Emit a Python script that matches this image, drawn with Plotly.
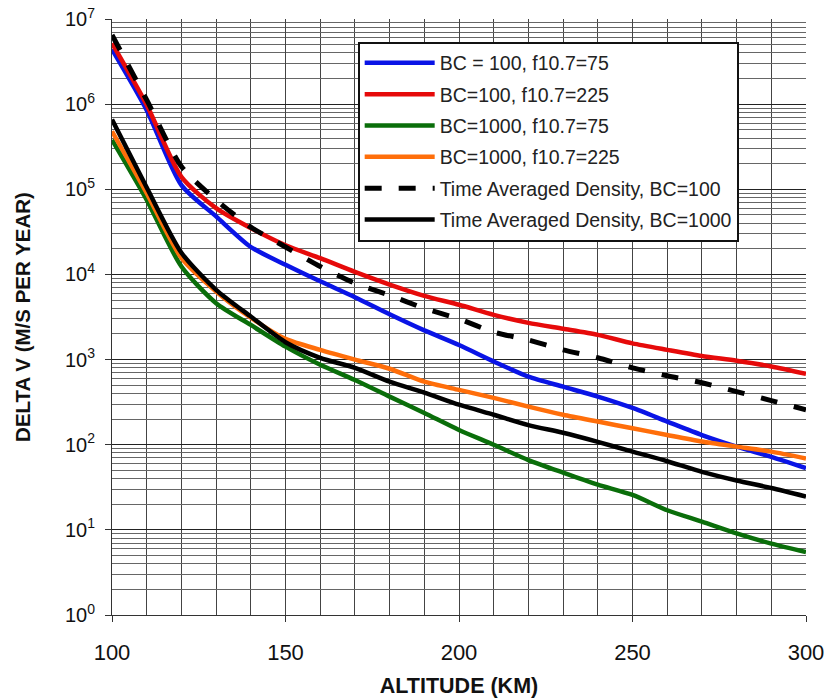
import plotly.graph_objects as go

# Altitude grid (km)
altitude = [100, 110, 120, 130, 140, 150, 160, 170, 180, 190, 200,
            210, 220, 230, 240, 250, 260, 270, 280, 290, 300]

# Delta-V needed to hold altitude (m/s per year)
bc100_f75 = [4.4e6, 8.5e5, 1.12e5, 4.8e4, 2.1e4, 1.3e4, 8.3e3, 5.4e3, 3.4e3, 2.2e3, 1.48e3,
             950, 630, 480, 367, 270, 187, 130, 95, 72, 53]
bc100_f225 = [5.2e6, 9.8e5, 1.4e5, 6.0e4, 3.5e4, 2.2e4, 1.55e4, 1.07e4, 7.6e3, 5.6e3, 4.4e3,
              3.35e3, 2.7e3, 2.3e3, 1.95e3, 1.55e3, 1.3e3, 1.1e3, 970, 830, 680]
bc1000_f75 = [3.8e5, 7.5e4, 1.24e4, 4.6e3, 2.55e3, 1.42e3, 870, 575, 367, 236, 149,
              100, 66, 47, 34, 25.7, 17, 12.5, 9.1, 6.9, 5.5]
bc1000_f225 = [4.8e5, 9.0e4, 1.56e4, 6.3e3, 3.1e3, 1.75e3, 1.3e3, 1.0e3, 780, 550, 440,
               355, 280, 225, 187, 156, 130, 109, 95, 83, 69]
avg_bc100 = [6.5e6, 1.12e6, 1.85e5, 7.5e4, 3.6e4, 2.1e4, 1.24e4, 7.9e3, 5.7e3, 4.0e3, 3.0e3,
             2.1e3, 1.7e3, 1.3e3, 1.05e3, 800, 645, 535, 420, 330, 257]
avg_bc1000 = [6.6e5, 1.05e5, 1.8e4, 6.6e3, 3.2e3, 1.6e3, 1.05e3, 800, 550, 410, 295,
              225, 170, 138, 108, 83, 64, 48, 38, 31, 24.6]

# Axis ticks
x_ticks = [100, 150, 200, 250, 300]
y_ticks = [1, 10, 100, 1e3, 1e4, 1e5, 1e6, 1e7]
y_tick_text = [f"10<sup>{n}</sup>" for n in range(8)]

series = [
    ("BC = 100, f10.7=75", bc100_f75, "#0a14e6", "solid"),
    ("BC=100, f10.7=225", bc100_f225, "#e60a0a", "solid"),
    ("BC=1000, f10.7=75", bc1000_f75, "#0a6e0a", "solid"),
    ("BC=1000, f10.7=225", bc1000_f225, "#ff6e0a", "solid"),
    ("Time Averaged Density, BC=100", avg_bc100, "#000000", "17px,17px"),
    ("Time Averaged Density, BC=1000", avg_bc1000, "#000000", "solid"),
]

fig = go.Figure()
for i, (name, vals, color, dash) in enumerate(series):
    fig.add_trace(go.Scatter(
        x=altitude, y=vals, name=name, mode="lines",
        line=dict(color=color, width=5 if dash != "solid" else 4.5,
                  dash=dash, shape="spline", smoothing=0.7),
        legendgroup=f"g{i}",
    ))

font_family = "Liberation Sans, Arial, sans-serif"

fig.update_layout(
    width=828, height=698,
    margin=dict(l=112, r=22, t=19, b=83),
    paper_bgcolor="white", plot_bgcolor="white",
    font=dict(family=font_family, color="#111", size=16),
    showlegend=True,
    legend=dict(
        x=0.354, y=0.962, xanchor="left", yanchor="top",
        bgcolor="white", bordercolor="#111", borderwidth=2,
        font=dict(size=19.5, color="#222"),
        itemwidth=70, tracegroupgap=3, traceorder="grouped",
    ),
    xaxis=dict(
        range=[100, 300], automargin=False,
        tickvals=x_ticks,
        ticks="outside", ticklen=6, tickcolor="#333", ticklabelstandoff=12,
        showgrid=True, gridcolor="#444", gridwidth=1,
        minor=dict(dtick=10, showgrid=True, gridcolor="#444", gridwidth=1),
        showline=True, linecolor="#333", linewidth=1,
        tickfont=dict(size=22),
        title=dict(text="<b>ALTITUDE (KM)</b>", font=dict(size=21.5), standoff=16),
        zeroline=False,
    ),
    yaxis=dict(
        type="log", range=[0, 7], automargin=False,
        tickvals=y_ticks, ticktext=y_tick_text,
        ticks="outside", ticklen=6, tickcolor="#333", ticklabelstandoff=6,
        showgrid=True, gridcolor="#222", gridwidth=1,
        minor=dict(dtick="D1", showgrid=True, gridcolor="#666", gridwidth=1),
        showline=True, linecolor="#333", linewidth=1,
        tickfont=dict(size=20),
        title=dict(text="<b>DELTA V (M/S PER YEAR)</b>", font=dict(size=20.5), standoff=28),
        zeroline=False,
    ),
)

fig.write_html("out.html")
